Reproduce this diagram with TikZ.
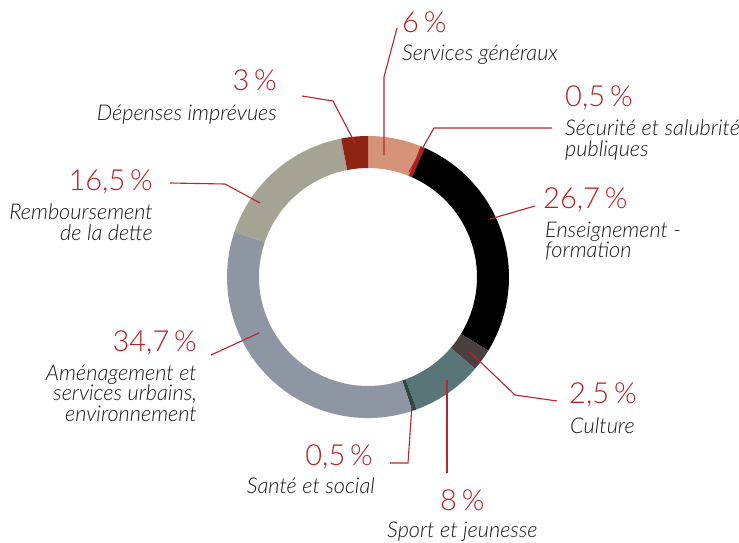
\documentclass[tikz,border=0pt]{standalone}
\usepackage{fontspec}
\setmainfont{Lato Light}[ItalicFont={Lato Light Italic}]
\definecolor{pctred}{HTML}{B51F24}
\definecolor{linered}{HTML}{B7262B}
\definecolor{labelcol}{HTML}{161616}
\definecolor{cServ}{HTML}{D5937A}
\definecolor{cSecu}{HTML}{B01C1C}
\definecolor{cEns}{HTML}{000000}
\definecolor{cCult}{HTML}{4B3F40}
\definecolor{cSport}{HTML}{5A7577}
\definecolor{cSante}{HTML}{2E4443}
\definecolor{cAmen}{HTML}{8E96A3}
\definecolor{cRemb}{HTML}{A4A394}
\definecolor{cDep}{HTML}{8E2311}
\tikzset{
  pct/.style={inner sep=0pt, text=pctred, font=\fontsize{29}{29}\selectfont},
  lbl/.style={inner sep=0pt, text=labelcol, font=\fontsize{21.7}{20.3}\selectfont\itshape},
  leader/.style={draw=linered, line width=1.1pt, line join=miter},
}
\newcommand{\ringseg}[3]{%
  \fill[#1] (#2:141) arc[start angle=#2, end angle=#3, radius=141]
    -- (#3:109) arc[start angle=#3, end angle=#2, radius=109] -- cycle;}
\begin{document}
\begin{tikzpicture}[x=1pt,y=-1pt]
\useasboundingbox[fill=white] (0,0) rectangle (739,542);
% ring
\begin{scope}[shift={(368,277)}, yscale=-1]
  \ringseg{cServ}{90}{68.049}
  \ringseg{cSecu}{68.049}{66.220}
  \ringseg{cEns}{66.220}{-31.463}
  \ringseg{cCult}{-31.463}{-40.609}
  \ringseg{cSport}{-40.609}{-69.877}
  \ringseg{cSante}{-69.877}{-71.706}
  \ringseg{cAmen}{-71.706}{-198.657}
  \ringseg{cRemb}{-198.657}{-259.023}
  \ringseg{cDep}{-259.023}{-270}
\end{scope}
% percentages
\node[pct, anchor=base west] (p6) at (402,32) {6\,\%};
\node[pct, anchor=base west] (pSecu) at (565,106.5) {0,5\,\%};
\node[pct, anchor=base west] (pEns) at (543,208) {26,7\,\%};
\node[pct, anchor=base west] (pCult) at (569,403) {2,5\,\%};
\node[pct, anchor=base west] (pSport) at (440,510) {8\,\%};
\node[pct, anchor=base east] (pSante) at (373,465) {0,5\,\%};
\node[pct, anchor=base east] (pAmen) at (197,351.5) {34,7\,\%};
\node[pct, anchor=base east] (pRemb) at (153,190.5) {16,5\,\%};
\node[pct, anchor=base east] (pDep) at (277,90.5) {3\,\%};
% labels (base anchor = baseline of last line)
\node[lbl, anchor=base west] (lServ) at (402,60) {Services généraux};
\node[lbl, anchor=base west, align=left] (lSecu) at (565,156) {Sécurité et salubrité\\publiques};
\node[lbl, anchor=base west, align=left] (lEns) at (545,257.5) {Enseignement -\\formation};
\node[lbl, anchor=base west] (lCult) at (570,433) {Culture};
\node[lbl, anchor=base west] (lSport) at (387,537) {Sport et jeunesse};
\node[lbl, anchor=base east] (lSante) at (375,493) {Santé et social};
\node[lbl, anchor=base east, align=right] (lAmen) at (197,421) {Aménagement et\\services urbains,\\environnement};
\node[lbl, anchor=base east, align=right] (lRemb) at (153,240) {Remboursement\\de la dette};
\node[lbl, anchor=base east] (lDep) at (277,120) {Dépenses imprévues};
% leader coordinates
\coordinate (a1) at (384,155); \coordinate (b1) at (384,77); \coordinate (c1) at (397,28);
\coordinate (a2) at (409,172); \coordinate (b2) at (434,128); \coordinate (c2) at (552,128);
\coordinate (a3) at (490,219); \coordinate (c3) at (535,206);
\coordinate (a4) at (470,352); \coordinate (b4) at (515,395); \coordinate (c4) at (557,401);
\coordinate (a5) at (447,380); \coordinate (c5) at (447,473);
\coordinate (a6) at (412,405); \coordinate (b6) at (408,463); \coordinate (c6) at (390,463);
\coordinate (a7) at (259,333); \coordinate (c7) at (211,355);
\coordinate (a8) at (260,203); \coordinate (b8) at (225,184); \coordinate (c8) at (170,183);
\coordinate (a9) at (355,143); \coordinate (b9) at (333,101); \coordinate (c9) at (302,96);
% leaders
\draw[leader] (a1) -- (b1) -- (c1);
\draw[leader] (a2) -- (b2) -- (c2);
\draw[leader] (a3) -- (c3);
\draw[leader] (a4) -- (b4) -- (c4);
\draw[leader] (a5) -- (c5);
\draw[leader] (a6) -- (b6) -- (c6);
\draw[leader] (a7) -- (c7);
\draw[leader] (a8) -- (b8) -- (c8);
\draw[leader] (a9) -- (b9) -- (c9);
\end{tikzpicture}
\end{document}
